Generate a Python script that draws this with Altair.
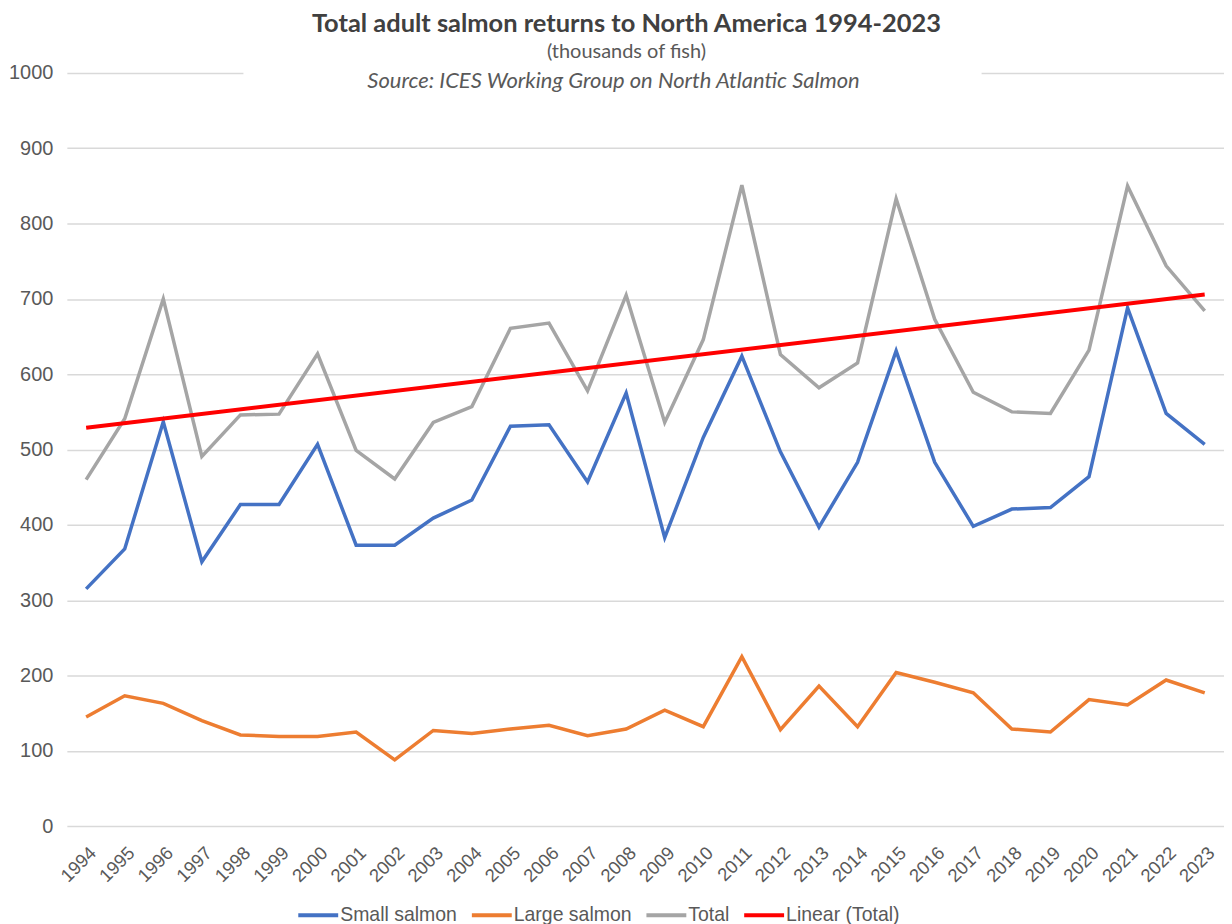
import altair as alt
import pandas as pd

years = list(range(1994, 2024))
small_salmon = [315, 368, 537, 351, 427, 427, 507, 373, 373, 409, 433, 531, 533, 457, 575,
                383, 516, 624, 497, 397, 483, 631, 483, 398, 421, 423, 464, 688, 548, 507]
large_salmon = [145, 173, 163, 140, 121, 119, 119, 125, 88, 127, 123, 129, 134, 120, 129,
                154, 132, 225, 128, 186, 132, 204, 191, 177, 129, 125, 168, 161, 194, 177]
total = [460, 541, 700, 491, 546, 547, 627, 499, 461, 536, 557, 661, 668, 578, 705,
         536, 646, 851, 626, 582, 615, 833, 673, 576, 550, 548, 632, 850, 744, 684]

series_names = ["Small salmon", "Large salmon", "Total", "Linear (Total)"]
series_colors = ["#4472C4", "#ED7D31", "#A5A5A5", "#FF0000"]
y_ticks = list(range(0, 1001, 100))

title_text = "Total adult salmon returns to North America 1994-2023"
subtitle_text = "(thousands of fish)"
source_text = "Source: ICES Working Group on North Atlantic Salmon"

df = pd.DataFrame({"year": years, "Small salmon": small_salmon,
                   "Large salmon": large_salmon, "Total": total})

W, H = 1160, 755
AXIS_FONT = "Liberation Sans"
TITLE_FONT = "Lato"

x_enc = alt.X("year:Q",
              scale=alt.Scale(domain=[1993.5, 2023.5], nice=False, zero=False),
              axis=alt.Axis(values=years, format="d", labelAngle=-45, grid=False,
                            domain=False, ticks=False, labelPadding=17,
                            labelOverlap=False, labelFontSize=18.5,
                            labelColor="#595959", labelFont=AXIS_FONT, title=None))
y_enc = alt.Y("value:Q",
              scale=alt.Scale(domain=[0, 1000], nice=False),
              axis=alt.Axis(values=y_ticks, format="d", grid=True, gridColor="#D9D9D9",
                            gridWidth=1.5, domain=False, ticks=False,
                            labelPadding=14, labelFontSize=20,
                            labelColor="#595959", labelFont=AXIS_FONT, title=None))
color_enc = alt.Color("series:N",
                      scale=alt.Scale(domain=series_names, range=series_colors),
                      legend=alt.Legend(orient="none", legendX=230, legendY=822,
                                        direction="horizontal", title=None,
                                        symbolType="stroke", symbolSize=1600,
                                        symbolStrokeWidth=4, labelFontSize=19.5,
                                        labelColor="#595959", labelFont=AXIS_FONT,
                                        labelOffset=0, columnPadding=6))

lines = alt.Chart(df).transform_fold(
    ["Small salmon", "Large salmon", "Total"], as_=["series", "value"]
).mark_line(strokeWidth=3.5).encode(x=x_enc, y=y_enc, color=color_enc)

trend = alt.Chart(df).transform_regression(
    "year", "Total", method="linear", as_=["year", "value"]
).transform_calculate(series="'Linear (Total)'").mark_line(strokeWidth=4).encode(
    x=x_enc, y=y_enc, color=color_enc)

one = pd.DataFrame({"k": [0]})
mask = alt.Chart(one).mark_rect(fill="white").encode(
    x=alt.value(177), x2=alt.value(917), y=alt.value(-4), y2=alt.value(4))

t1 = alt.Chart(one).mark_text(text=title_text, font=TITLE_FONT, fontWeight="bold",
                              fontSize=25.5, color="#404040", align="center",
                              baseline="middle").encode(x=alt.value(561), y=alt.value(-49))
t2 = alt.Chart(one).mark_text(text=subtitle_text, font=TITLE_FONT, fontSize=20,
                              color="#595959", align="center",
                              baseline="middle").encode(x=alt.value(561), y=alt.value(-21))
t3 = alt.Chart(one).mark_text(text=source_text, font=TITLE_FONT, fontSize=22,
                              fontStyle="italic", color="#595959", align="center",
                              baseline="middle").encode(x=alt.value(548), y=alt.value(8))

chart = alt.layer(lines, trend, mask, t1, t2, t3).properties(
    width=W, height=H,
    padding={"left": 0, "top": 3, "right": 0, "bottom": 0},
    background="white"
).configure_view(stroke=None)

chart.save("out.html", embed_options={"renderer": "svg", "actions": False})
